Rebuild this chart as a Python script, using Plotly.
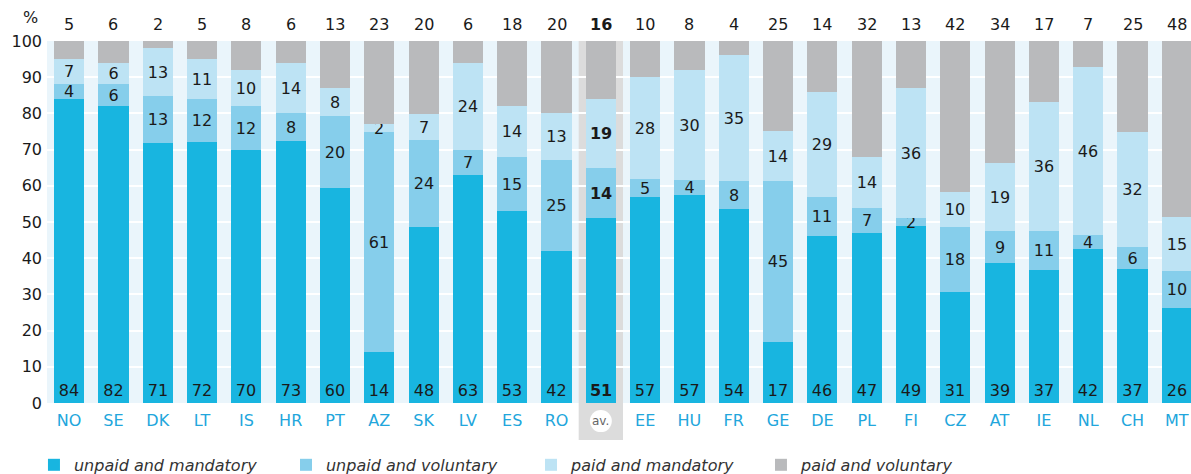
import plotly.graph_objects as go

countries = ["NO", "SE", "DK", "LT", "IS", "HR", "PT", "AZ", "SK", "LV", "ES", "RO", "av.",
             "EE", "HU", "FR", "GE", "DE", "PL", "FI", "CZ", "AT", "IE", "NL", "CH", "MT"]
unpaid_mandatory = [84, 82, 71, 72, 70, 73, 60, 14, 48, 63, 53, 42, 51,
                    57, 57, 54, 17, 46, 47, 49, 31, 39, 37, 42, 37, 26]
unpaid_voluntary = [4, 6, 13, 12, 12, 8, 20, 61, 24, 7, 15, 25, 14,
                    5, 4, 8, 45, 11, 7, 2, 18, 9, 11, 4, 6, 10]
paid_mandatory = [7, 6, 13, 11, 10, 14, 8, 2, 7, 24, 14, 13, 19,
                  28, 30, 35, 14, 29, 14, 36, 10, 19, 36, 46, 32, 15]
paid_voluntary = [5, 6, 2, 5, 8, 6, 13, 23, 20, 6, 18, 20, 16,
                  10, 8, 4, 25, 14, 32, 13, 42, 34, 17, 7, 25, 48]
yticks = list(range(0, 101, 10))

AV = countries.index("av.")
xs = list(range(len(countries)))

FONT = "DejaVu Sans"
TXT = "#1a1a1a"
C1, C2, C3, C4 = "#18b5e0", "#86ceeb", "#bde3f4", "#b9babc"


def labels(vals):
    return [f"<b>{v}</b>" if i == AV else str(v) for i, v in enumerate(vals)]


fig = go.Figure()
series = [
    ("unpaid and mandatory", unpaid_mandatory, C1, "start", True, "legend"),
    ("unpaid and voluntary", unpaid_voluntary, C2, "middle", True, "legend2"),
    ("paid and mandatory", paid_mandatory, C3, "middle", True, "legend3"),
    ("paid and voluntary", paid_voluntary, C4, "middle", False, "legend4"),
]
for name, vals, col, anchor, show_text, leg in series:
    fig.add_trace(go.Bar(
        x=xs, y=vals, name=name, marker=dict(color=col, line=dict(width=0)),
        width=0.68, legend=leg,
        text=labels(vals) if show_text else None,
        textposition="inside" if show_text else "none",
        insidetextanchor=anchor,
        textangle=0,
        insidetextfont=dict(family=FONT, size=16, color=TXT),
        hoverinfo="skip",
    ))

# totals of top segment above the plot
top_labels = labels(paid_voluntary)
for i in xs:
    fig.add_annotation(x=i, y=100, xref="x", yref="y", text=top_labels[i],
                       showarrow=False, yanchor="bottom", yshift=5,
                       font=dict(family=FONT, size=16, color=TXT))

fig.add_annotation(x=-0.014, y=1.064, xref="paper", yref="paper", text="%", showarrow=False,
                   xanchor="center", yanchor="middle",
                   font=dict(family=FONT, size=16, color=TXT))

# grey band behind the average column
fig.add_shape(type="rect", xref="x", yref="paper", x0=AV - 0.5, x1=AV + 0.5,
              y0=-0.102, y1=1, fillcolor="#dcdcdc", line=dict(width=0), layer="below")
fig.add_shape(type="circle", xref="x", yref="paper", xsizemode="pixel", ysizemode="pixel",
              xanchor=AV, yanchor=-0.05, x0=-11, x1=11, y0=-11, y1=11,
              fillcolor="white", line=dict(width=0), layer="above")
fig.add_annotation(x=AV, y=-0.05, xref="x", yref="paper", text="av.", showarrow=False,
                   xanchor="center", yanchor="middle",
                   font=dict(family=FONT, size=12, color="#666666"))

ticktext = ["" if c == "av." else c for c in countries]


def leg(xpos):
    return dict(orientation="h", x=xpos, xanchor="left", y=-0.171, yanchor="middle",
                font=dict(family=FONT, size=16, color="#333333", style="italic"),
                itemclick=False, bgcolor="rgba(0,0,0,0)")


fig.update_layout(
    width=1191, height=474,
    margin=dict(l=47, r=0, t=41, b=71, autoexpand=False),
    barmode="stack", barnorm="percent",
    plot_bgcolor="#eaf5fb", paper_bgcolor="white",
    font=dict(family=FONT, size=16, color=TXT),
    uniformtext=dict(minsize=16, mode="show"),
    xaxis=dict(range=[-0.5, 25.32], tickmode="array", tickvals=xs, ticktext=ticktext,
               tickfont=dict(family=FONT, size=16, color="#22a6dc"), showgrid=False,
               zeroline=False, ticks="", fixedrange=True, automargin=False,
               ticklabelstandoff=6),
    yaxis=dict(range=[0, 100], tickmode="array", tickvals=yticks,
               ticktext=[str(t) for t in yticks], showgrid=True, gridcolor="white",
               gridwidth=2, zeroline=False, ticks="", ticklabelstandoff=4, automargin=False,
               fixedrange=True, tickfont=dict(family=FONT, size=16, color=TXT)),
    showlegend=True,
    legend=leg(-0.0114),
    legend2=leg(0.2089),
    legend3=leg(0.4231),
    legend4=leg(0.6241),
    bargap=0,
)

fig.write_html("out.html", config={"displayModeBar": False},
               post_script="document.body.style.margin='0';")
